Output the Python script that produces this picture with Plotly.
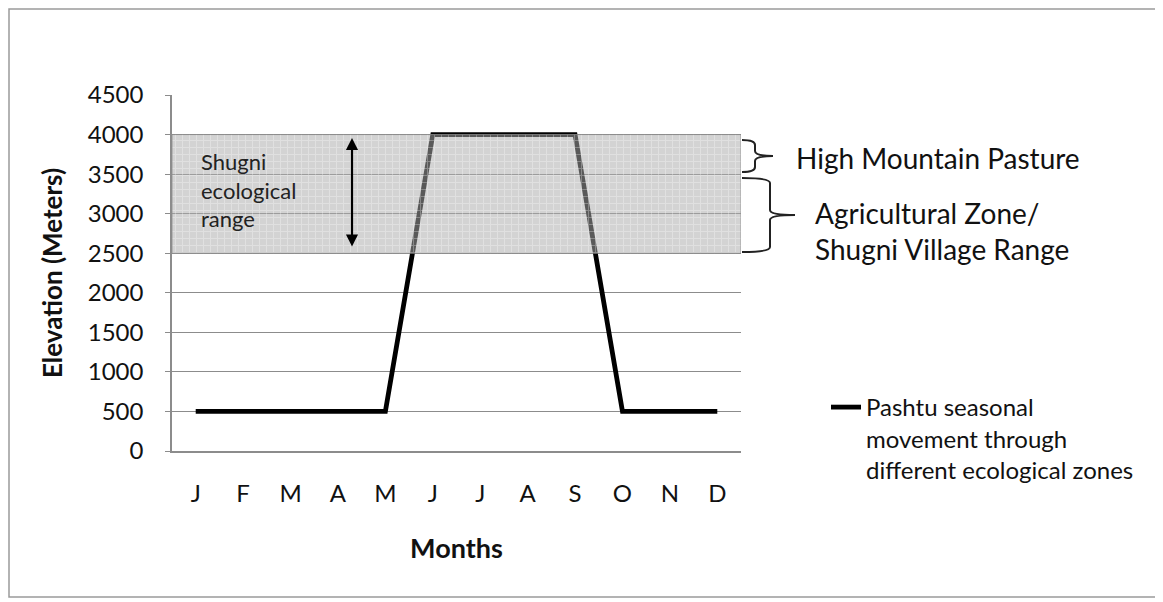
import plotly.graph_objects as go

# ---- data ----
months = ["J", "F", "M", "A", "M", "J", "J", "A", "S", "O", "N", "D"]
elevation = [500, 500, 500, 500, 500, 4000, 4000, 4000, 4000, 500, 500, 500]
series_name = "Pashtu seasonal<br>movement through<br>different ecological zones"
band_low, band_high = 2500, 4000          # Shugni ecological range
y_ticks = [0, 500, 1000, 1500, 2000, 2500, 3000, 3500, 4000, 4500]

# ---- layout geometry (pixels in the reference picture) ----
OFF = 8                      # page body margin of the html page
W_FIG, H_FIG = 1163 - OFF, 602 - OFF
L, R, T, B = 172 - OFF, 741 - OFF, 95 - OFF, 451 - OFF
PW, PH = R - L, B - T


def px(x):
    return (x - OFF - L) / PW


def py(y):
    return (B - (y - OFF)) / PH


FONT = "Lato, 'Open Sans', sans-serif"
GRID = "#8c8c8c"
TXT = "#111111"

xs = list(range(len(months)))

fig = go.Figure()
fig.add_trace(go.Scatter(
    x=xs, y=elevation, mode="lines", name=series_name,
    line=dict(color="black", width=4.8), showlegend=True,
))
# textured band overlay (Shugni ecological range)
bx = [-0.5, len(months) - 0.5, len(months) - 0.5, -0.5, -0.5]
by = [band_low, band_low, band_high, band_high, band_low]
fig.add_trace(go.Scatter(
    x=bx, y=by, mode="lines", fill="toself", showlegend=False,
    line=dict(width=1, color="rgba(140,140,140,0.8)"),
    fillcolor="rgba(180,180,180,0.5)",
    fillpattern=dict(shape="+", fgcolor="rgba(255,255,255,0.6)",
                     bgcolor="rgba(172,172,172,0.52)", size=7, solidity=0.25),
    hoverinfo="skip",
))


def brace(x0, xs_, xt, ytop, ybot, r=5):
    ym = (ytop + ybot) / 2
    pts = [
        f"M {px(x0)},{py(ytop)}",
        f"Q {px(xs_)},{py(ytop)} {px(xs_)},{py(ytop + r)}",
        f"L {px(xs_)},{py(ym - r)}",
        f"Q {px(xs_)},{py(ym)} {px(xt)},{py(ym)}",
        f"M {px(xt)},{py(ym)}",
        f"Q {px(xs_)},{py(ym)} {px(xs_)},{py(ym + r)}",
        f"L {px(xs_)},{py(ybot - r)}",
        f"Q {px(xs_)},{py(ybot)} {px(x0)},{py(ybot)}",
    ]
    return " ".join(pts)


shapes = [
    dict(type="rect", xref="paper", yref="paper",
         x0=px(OFF + 1), x1=px(1160), y0=py(597), y1=py(OFF + 1),
         line=dict(color="#9a9a9a", width=1.5), layer="below"),
    dict(type="path", xref="paper", yref="paper",
         path=brace(742, 755, 773, 140, 172), line=dict(color="#222", width=2)),
    dict(type="path", xref="paper", yref="paper",
         path=brace(742, 770, 795, 178, 252), line=dict(color="#222", width=2)),
]

annotations = [
    dict(xref="paper", yref="paper", x=px(199), y=py(190), xanchor="left", yanchor="middle",
         text="Shugni<br>ecological<br>range", showarrow=False, align="left",
         font=dict(family=FONT, size=22, color="#222")),
    dict(xref="paper", yref="paper", x=px(352), y=py(138), ax=0, ay=110,
         text="", showarrow=True, arrowhead=2, arrowside="end+start",
         arrowsize=1.1, arrowwidth=2.2, arrowcolor="black"),
    dict(xref="paper", yref="paper", x=px(794), y=py(158), xanchor="left", yanchor="middle",
         text="High Mountain Pasture", showarrow=False,
         font=dict(family=FONT, size=28, color=TXT)),
    dict(xref="paper", yref="paper", x=px(813), y=py(213), xanchor="left", yanchor="middle",
         text="Agricultural Zone/", showarrow=False,
         font=dict(family=FONT, size=28, color=TXT)),
    dict(xref="paper", yref="paper", x=px(813), y=py(249), xanchor="left", yanchor="middle",
         text="Shugni Village Range", showarrow=False,
         font=dict(family=FONT, size=28, color=TXT)),
]

fig.update_layout(
    width=W_FIG, height=H_FIG,
    margin=dict(l=L, r=W_FIG - R, t=T, b=H_FIG - B, autoexpand=False),
    paper_bgcolor="white", plot_bgcolor="white",
    font=dict(family=FONT, color=TXT, size=24),
    shapes=shapes, annotations=annotations,
    legend=dict(x=px(826), y=py(385), xanchor="left", yanchor="top",
                font=dict(family=FONT, size=24, color=TXT),
                bgcolor="rgba(0,0,0,0)", valign="top", tracegroupgap=0),
)
fig.update_xaxes(
    range=[-0.5, len(months) - 0.5], tickvals=xs, ticktext=months,
    showgrid=False, showline=True, linecolor=GRID, linewidth=1.5,
    ticks="", ticklabelstandoff=20, zeroline=False,
    tickfont=dict(family=FONT, size=24, color=TXT),
    title=dict(text="<b>Months</b>", standoff=34,
               font=dict(family=FONT, size=27, color=TXT)),
)
fig.update_yaxes(
    range=[0, 4500], tickvals=y_ticks, showgrid=True, gridcolor=GRID, gridwidth=1,
    showline=True, linecolor=GRID, linewidth=1.5, ticks="outside", ticklen=5,
    tickcolor=GRID, zeroline=False, ticklabelstandoff=17,
    tickfont=dict(family=FONT, size=24, color=TXT),
    title=dict(text="<b>Elevation (Meters)</b>", standoff=18,
               font=dict(family=FONT, size=26, color=TXT)),
)

fig.write_html("out.html")
